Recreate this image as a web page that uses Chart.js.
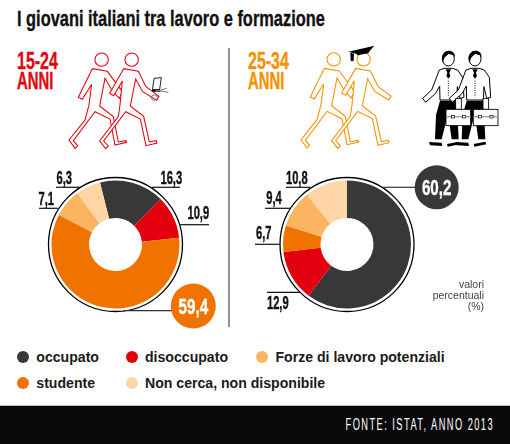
<!DOCTYPE html>
<html lang="it"><head><meta charset="utf-8">
<script src="https://cdn.jsdelivr.net/npm/chart.js@4"></script>
<style>
html,body{margin:0;padding:0;background:#fff;width:510px;height:444px;overflow:hidden}
#page{position:relative;width:510px;height:444px;overflow:hidden;font-family:"Liberation Sans",sans-serif}
.t{position:absolute;white-space:nowrap;transform-origin:0 0;font-family:"Liberation Sans",sans-serif;font-weight:700;line-height:1;-webkit-text-stroke:.35px currentColor}
canvas{position:absolute}
svg{position:absolute;left:0;top:0}
.lg{position:absolute;white-space:nowrap;font:700 14.1px/16px "Liberation Sans",sans-serif;color:#1a1a1a}
.dot{position:absolute;width:12px;height:12px;border-radius:50%}
</style></head><body><div id="page">
<svg width="510" height="444" viewBox="0 0 510 444">
 <defs>
  <g id="walker" fill="#fff" stroke-width="3.2" stroke-linejoin="miter">
   <polygon points="82,71 40,157 52,163 80,118 72,180 60,225 12,285 30,310 38,302 25,287 90,200 135,222 150,300 185,292 183,287 160,291 145,215 104,183 120,100 142,138 163,160 172,140 127,79"/>
   <circle cx="110" cy="44" r="20"/>
   <polygon points="176,71 134,145 146,152 172,108 165,180 160,215 104,288 122,311 130,303 116,288 182,200 226,222 243,302 276,294 274,287 253,291 236,214 196,183 212,102 233,140 275,166 282,154 243,125 220,79"/>
   <circle cx="200" cy="44" r="20"/>
  </g>
  <g id="man">
   <polygon fill="#000" points="75,182 125,182 131,298 110,298 99,222 80,298 60,298 63,225"/>
   <polygon fill="#000" points="42,306 80,308 82,318 45,316"/>
   <polygon fill="#000" points="96,312 131,305 134,313 98,320"/>
   <polygon fill="#fff" stroke="#000" stroke-width="3" points="88,85 73,90 50,150 23,175 32,187 62,160 74,138 75,180 125,180 127,140 135,175 147,172 143,112 128,90 112,85"/>
   <polygon fill="#000" points="92,88 108,88 103,98 106,108 100,116 94,108 97,98"/>
   <line x1="100" y1="122" x2="100" y2="172" stroke="#000" stroke-width="3" stroke-dasharray="3 4"/>
   <ellipse cx="100" cy="56" rx="18" ry="22" fill="#fff" stroke="#000" stroke-width="3"/>
   <path fill="#000" d="M81,58C78,28 120,22 120,52C116,44 110,44 100,42C94,50 86,48 85,70Z"/>
  </g>
  <g id="case">
   <rect x="122" y="176" width="17" height="32" fill="#fff" stroke="#000" stroke-width="2.6"/>
   <rect x="93" y="208" width="74" height="49" fill="#fff" stroke="#000" stroke-width="2.6"/>
   <line x1="93" y1="230" x2="167" y2="230" stroke="#999" stroke-width="4"/>
   <rect x="109" y="226" width="9" height="8" fill="#fff" stroke="#000" stroke-width="2"/>
   <rect x="143" y="226" width="9" height="8" fill="#fff" stroke="#000" stroke-width="2"/>
  </g>
 </defs>
 <g transform="translate(65 45) scale(.3333)" stroke="#e30613"><use href="#walker"/></g>
 <g transform="translate(65 45) scale(.3333)">
  <polygon points="267,100 289,98 283,140 262,138" fill="none" stroke="#222" stroke-width="3"/>
  <line x1="263" y1="136" x2="285" y2="136" stroke="#000" stroke-width="7"/>
  <ellipse cx="268" cy="158" rx="9" ry="8" fill="none" stroke="#777" stroke-width="3"/>
  <path d="M272,136L310,142M272,140L305,130" stroke="#777" stroke-width="3" fill="none"/>
 </g>
 <g transform="translate(297 44.7) scale(.3333)" stroke="#f39200"><use href="#walker"/></g>
 <g transform="translate(295 40) scale(.3333)" fill="#000">
  <polygon points="160,35 238,17 224,33 220,40 188,46 183,41"/>
  <polygon points="166,38 177,41 176,63 167,63"/>
 </g>
 <g transform="translate(415 40) scale(.3333)">
  <use href="#man"/><use href="#man" x="80"/>
  <use href="#case"/><use href="#case" x="82"/>
 </g>
 <line x1="229" y1="48" x2="229" y2="327" stroke="#777" stroke-width="1.6"/>
</svg>
<canvas id="c1"></canvas>
<canvas id="c2"></canvas>
<div id="texts"></div>
<div style="position:absolute;left:0;top:405px;width:510px;height:39px;background:#0a0a0c;border-top:1px solid #bbb;box-sizing:border-box"></div>
<div id="foot" class="t" style="color:#fff;font-weight:400;-webkit-text-stroke:0"></div>
</div>
<script>
// ---- data ----
const categories = ["occupato","disoccupato","studente","Forze di lavoro potenziali","Non cerca, non disponibile"];
const values1524 = [16.3,10.9,59.4,7.1,6.3];
const values2534 = [60.2,12.9,6.7,9.4,10.8];
const sliceColors = ["#383838","#e2000f","#f07300","#fbb560","#fed5a4"];
const titleText = "I giovani italiani tra lavoro e formazione";
const groupLabels = ["15-24","ANNI","25-34","ANNI"];
const noteLines = ["valori","percentuali","(%)"];
const sourceText = "FONTE: ISTAT, ANNO 2013";

// ---- layout (page pixels) ----
const leftLabels = [
 {lx:[152,180],ly:187.3,tx:171.3,ty:184},
 {lx:[180,209],ly:224.7,tx:198.3,ty:219.3},
 {lx:[123,172],ly:310.7,tx:193.3,ty:313.5,bubble:[193.3,306,22.5]},
 {lx:[39,58],ly:208.3,tx:46.3,ty:205},
 {lx:[56,80],ly:187.3,tx:64.3,ty:184}
];
const rightLabels = [
 {lx:[383,415],ly:187.3,tx:436.7,ty:195,bubble:[436.7,187.3,22]},
 {lx:[267,300],ly:292.3,tx:277.8,ty:309},
 {lx:[255,280],ly:244.3,tx:263.7,ty:239.3},
 {lx:[265,290],ly:208.3,tx:274,ty:204},
 {lx:[286,310],ly:187.3,tx:296.8,ty:184}
];
const fmt=v=>String(v).replace('.',',');

const calloutPlugin={id:'callouts',afterDatasetsDraw(chart,_a,o){
 const ctx=chart.ctx, arc=chart.getDatasetMeta(0).data[0], vals=chart.data.datasets[0].data;
 ctx.save();
 ctx.translate(-o.left,-o.top);
 ctx.beginPath();ctx.arc(arc.x+o.left,arc.y+o.top,arc.outerRadius+3,0,Math.PI*2);
 ctx.lineWidth=1.3;ctx.strokeStyle='#000';ctx.stroke();
 o.labels.forEach((l,i)=>{
  ctx.beginPath();ctx.moveTo(l.lx[0],l.ly);ctx.lineTo(l.lx[1],l.ly);
  ctx.lineWidth=1.2;ctx.strokeStyle=l.bubble?'#333':'#111';ctx.stroke();
  if(l.bubble){ctx.beginPath();ctx.arc(l.bubble[0],l.bubble[1],l.bubble[2],0,Math.PI*2);ctx.fillStyle=chart.data.datasets[0].backgroundColor[i];ctx.fill();}
  ctx.save();
  ctx.translate(l.tx,l.ty);ctx.scale(l.bubble?.69:.62,1);
  ctx.font='700 '+(l.bubble?22:18)+'px "Liberation Sans",sans-serif';
  ctx.textAlign='center';ctx.textBaseline='alphabetic';
  ctx.fillStyle=l.bubble?'#fff':'#111';
  ctx.strokeStyle=ctx.fillStyle;ctx.lineWidth=.4;
  ctx.fillText(fmt(vals[i]),0,0);
  ctx.strokeText(fmt(vals[i]),0,0);
  ctx.restore();
 });
 ctx.restore();
}};

function donut(id,vals,rot,left,top,w,h,labels){
 const cv=document.getElementById(id);
 cv.style.left=left+'px';cv.style.top=top+'px';
 cv.width=w;cv.height=h;cv.style.width=w+'px';cv.style.height=h+'px';
 return new Chart(cv,{type:'doughnut',
  data:{labels:categories,datasets:[{data:vals,backgroundColor:sliceColors,borderWidth:0}]},
  options:{responsive:false,animation:false,rotation:rot,radius:64,cutout:'41.4%',
   events:[],
   plugins:{legend:{display:false},tooltip:{enabled:false},title:{display:false},
    callouts:{left,top,labels}}},
  plugins:[calloutPlugin]});
}
donut('c1',values1524,-14,0,154,231,181,leftLabels);
donut('c2',values2534,0,229,154,236,181,rightLabels);

// ---- html text ----
const T=document.getElementById('texts');
function text(s,x,y,size,color,sx){
 const d=document.createElement('div');d.className='t';d.textContent=s;
 d.style.cssText+=`left:${x}px;top:${y}px;font-size:${size}px;color:${color};transform:scaleX(${sx});`;
 T.appendChild(d);return d;
}
text(titleText,17,8,22,'#111',.745);
text(groupLabels[0],17,49,24,'#e30613',.665);
text(groupLabels[1],17,69,24,'#e30613',.62);
text(groupLabels[2],248,49,24,'#f39200',.665);
text(groupLabels[3],248,69,24,'#f39200',.62);
noteLines.forEach((s,i)=>{
 const d=document.createElement('div');d.textContent=s;
 d.style.cssText=`position:absolute;right:26px;top:${278+i*11}px;font:400 10.5px/12px "Liberation Sans",sans-serif;color:#444;white-space:nowrap`;
 T.appendChild(d);
});
const legendPos=[[23,356.7,36.3],[132,356.7,145],[23,382.7,36.3],[262,356.7,275.5],[132,382.7,145]];
categories.forEach((c,i)=>{
 const p=legendPos[i];
 const dot=document.createElement('div');dot.className='dot';
 dot.style.cssText=`left:${p[0]-6}px;top:${p[1]-6}px;background:${sliceColors[i]}`;
 T.appendChild(dot);
 const t=document.createElement('div');t.className='lg';t.textContent=c;
 t.style.cssText=`left:${p[2]}px;top:${p[1]-8}px`;
 T.appendChild(t);
});
const f=document.getElementById('foot');f.textContent=sourceText;
f.style.cssText+='right:16px;top:417px;font-size:16px;letter-spacing:2.5px;transform-origin:100% 0;transform:scaleX(.58);';
</script>
</body></html>
